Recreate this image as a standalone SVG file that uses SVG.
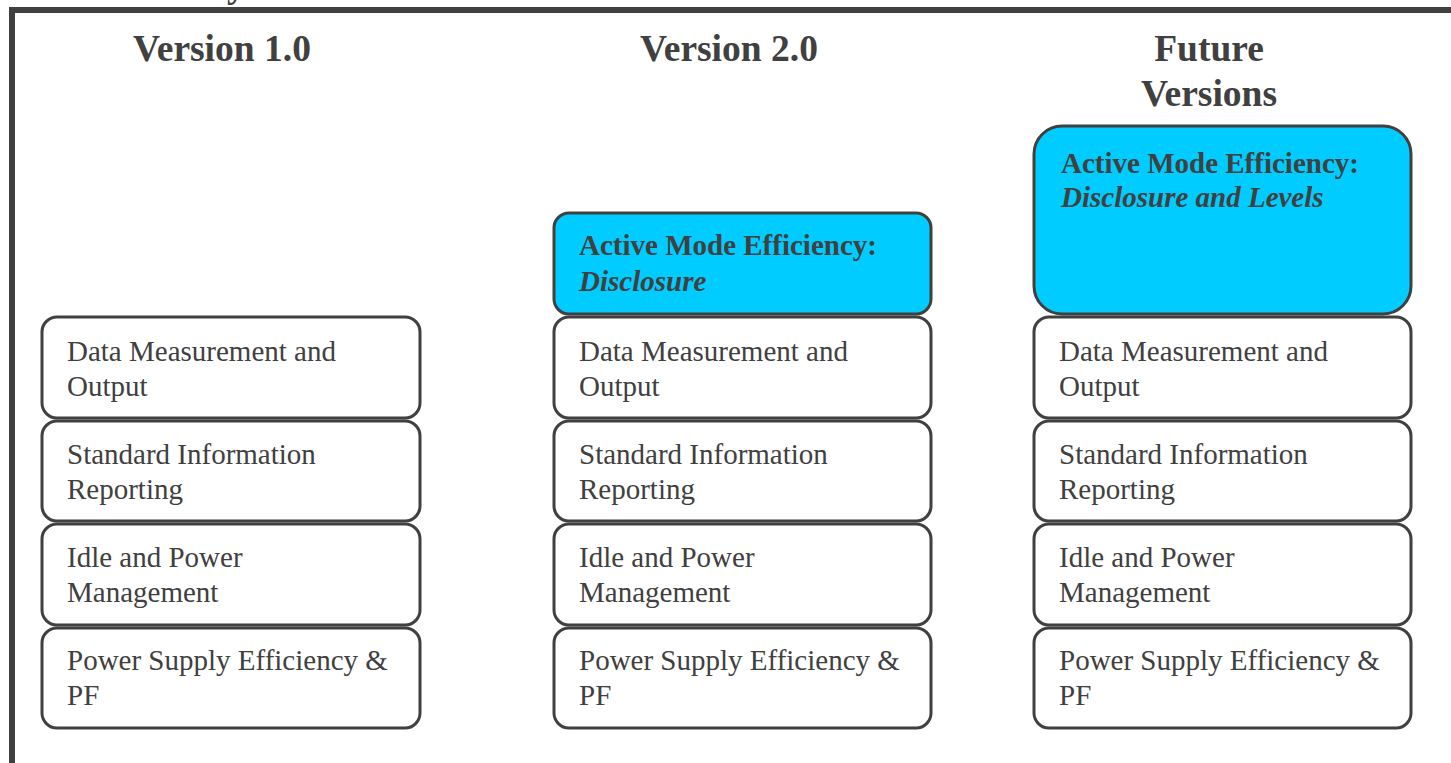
<svg xmlns="http://www.w3.org/2000/svg" width="1451" height="763" viewBox="0 0 1451 763">
  <style>
    .frame { fill: none; stroke: #404040; stroke-width: 6; }
    .box { fill: #ffffff; stroke: #404040; stroke-width: 3; }
    .active { fill: #00ccff; stroke: #404040; stroke-width: 3; }
    .head { font-family: "Liberation Serif", "Times New Roman", serif; font-weight: bold; font-size: 37.5px; fill: #404040; text-anchor: middle; }
    .label { font-family: "Liberation Serif", "Times New Roman", serif; font-size: 29px; fill: #404040; }
    .b { font-weight: bold; }
    .bi { font-weight: bold; font-style: italic; }
  </style>

  <rect x="0" y="0" width="1451" height="763" fill="#ffffff"/>

  <!-- title descender above the frame -->
  <text x="227" y="-3" class="head" style="text-anchor:start">y</text>

  <!-- outer frame -->
  <path class="frame" d="M12,766 V10 H1454"/>

  <!-- column headings -->
  <g id="heading-v1"><text x="222" y="61" class="head">Version 1.0</text></g>
  <g id="heading-v2"><text x="729" y="61" class="head">Version 2.0</text></g>
  <g id="heading-future">
    <text x="1209" y="61" class="head">Future</text>
    <text x="1209" y="106" class="head">Versions</text>
  </g>

  <!-- Version 1.0 stack -->
  <g id="v1-data">
    <rect class="box" x="42" y="317" width="378" height="101" rx="15"/>
    <text class="label" x="67" y="361">Data Measurement and</text>
    <text class="label" x="67" y="396">Output</text>
  </g>
  <g id="v1-info">
    <rect class="box" x="42" y="421" width="378" height="100" rx="15"/>
    <text class="label" x="67" y="464">Standard Information</text>
    <text class="label" x="67" y="499">Reporting</text>
  </g>
  <g id="v1-idle">
    <rect class="box" x="42" y="524" width="378" height="101" rx="15"/>
    <text class="label" x="67" y="567">Idle and Power</text>
    <text class="label" x="67" y="602">Management</text>
  </g>
  <g id="v1-psu">
    <rect class="box" x="42" y="628" width="378" height="100" rx="15"/>
    <text class="label" x="67" y="670">Power Supply Efficiency &amp;</text>
    <text class="label" x="67" y="705">PF</text>
  </g>

  <!-- Version 2.0 stack -->
  <g id="v2-active">
    <rect class="active" x="554" y="213" width="377" height="101" rx="15"/>
    <text class="label b" x="579" y="255">Active Mode Efficiency:</text>
    <text class="label bi" x="579" y="291">Disclosure</text>
  </g>
  <g id="v2-data">
    <rect class="box" x="554" y="317" width="377" height="101" rx="15"/>
    <text class="label" x="579" y="361">Data Measurement and</text>
    <text class="label" x="579" y="396">Output</text>
  </g>
  <g id="v2-info">
    <rect class="box" x="554" y="421" width="377" height="100" rx="15"/>
    <text class="label" x="579" y="464">Standard Information</text>
    <text class="label" x="579" y="499">Reporting</text>
  </g>
  <g id="v2-idle">
    <rect class="box" x="554" y="524" width="377" height="101" rx="15"/>
    <text class="label" x="579" y="567">Idle and Power</text>
    <text class="label" x="579" y="602">Management</text>
  </g>
  <g id="v2-psu">
    <rect class="box" x="554" y="628" width="377" height="100" rx="15"/>
    <text class="label" x="579" y="670">Power Supply Efficiency &amp;</text>
    <text class="label" x="579" y="705">PF</text>
  </g>

  <!-- Future versions stack -->
  <g id="future-active">
    <rect class="active" x="1034" y="126" width="377" height="188" rx="28"/>
    <text class="label b" x="1061" y="173">Active Mode Efficiency:</text>
    <text class="label bi" x="1061" y="207">Disclosure and Levels</text>
  </g>
  <g id="future-data">
    <rect class="box" x="1034" y="317" width="377" height="101" rx="15"/>
    <text class="label" x="1059" y="361">Data Measurement and</text>
    <text class="label" x="1059" y="396">Output</text>
  </g>
  <g id="future-info">
    <rect class="box" x="1034" y="421" width="377" height="100" rx="15"/>
    <text class="label" x="1059" y="464">Standard Information</text>
    <text class="label" x="1059" y="499">Reporting</text>
  </g>
  <g id="future-idle">
    <rect class="box" x="1034" y="524" width="377" height="101" rx="15"/>
    <text class="label" x="1059" y="567">Idle and Power</text>
    <text class="label" x="1059" y="602">Management</text>
  </g>
  <g id="future-psu">
    <rect class="box" x="1034" y="628" width="377" height="100" rx="15"/>
    <text class="label" x="1059" y="670">Power Supply Efficiency &amp;</text>
    <text class="label" x="1059" y="705">PF</text>
  </g>

  <!-- no connectors in this layout -->
  <g id="connectors"/>
</svg>
